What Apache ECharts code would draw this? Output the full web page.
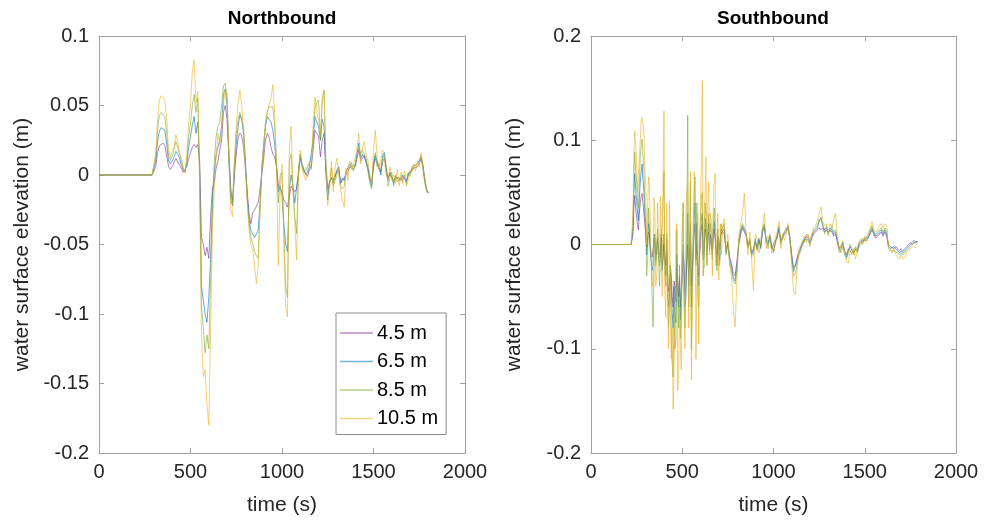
<!DOCTYPE html>
<html>
<head>
<meta charset="utf-8">
<script src="https://cdn.jsdelivr.net/npm/echarts@6/dist/echarts.min.js"></script>
<style>
html,body{margin:0;padding:0;background:#fff;}
#chart{width:987px;height:524px;}
</style>
</head>
<body>
<div id="chart"></div>
<script>
// ---------- DATA ----------
const seriesNames = ['4.5 m', '6.5 m', '8.5 m', '10.5 m'];
const xTicks = [0, 500, 1000, 1500, 2000];

// Northbound time (s)
const tN = [0, 290,
  300,310,320,330,340,350,360,370,380,390,
  400,410,420,430,440,450,460,470,480,490,
  500,510,520,530,540,550,560,570,580,590,
  600,610,620,630,640,650,660,670,680,690,
  700,710,720,730,740,750,760,770,780,790,
  800,810,820,830,840,850,860,870,880,890,
  900,910,920,930,940,950,960,970,980,990,
  1000,1010,1020,1030,1040,1050,1060,1070,1080,1090,
  1100,1110,1120,1130,1140,1150,1160,1170,1180,1190,
  1200,1210,1220,1230,1240,1250,1260,1270,1280,1290,
  1300,1310,1320,1330,1340,1350,1360,1370,1380,1390,
  1400,1410,1420,1430,1440,1450,1460,1470,1480,1490,
  1500,1510,1520,1530,1540,1550,1560,1570,1580,1590,
  1600,1610,1620,1630,1640,1650,1660,1670,1680,1690,
  1700,1710,1720,1730,1740,1750,1760,1770,1780,1790,
  1800];

const nb45 = [0, 0,
  0,0.006,0.016,0.021,0.022,0.023,0.021,0.014,0.006,0.004,
  0.006,0.009,0.012,0.011,0.007,0.005,0.002,0.001,0.006,0.012,
  0.016,0.020,0.022,0.020,0.022,0.010,-0.045,-0.050,-0.058,-0.052,
  -0.060,-0.030,-0.010,-0.005,0.005,0.010,0.018,0.025,0.045,0.050,
  0.040,0.015,-0.010,-0.020,0.000,0.015,0.027,0.030,0.028,0.020,
  0.005,-0.012,-0.028,-0.035,-0.027,-0.025,-0.025,-0.020,-0.010,0.000,
  0.012,0.025,0.030,0.027,0.020,0.015,0.013,0.006,-0.008,-0.010,
  -0.012,-0.018,-0.020,-0.023,-0.015,-0.008,-0.010,-0.012,-0.010,0.000,
  0.012,0.006,0.003,0.002,-0.001,0.004,0.006,0.018,0.032,0.030,
  0.028,0.013,0.025,0.030,0.005,-0.010,-0.005,-0.002,-0.004,0.000,
  0.002,0.004,-0.006,-0.004,-0.002,0.000,0.002,0.006,0.007,0.004,
  0.006,0.012,0.018,0.010,0.012,0.014,0.008,0.004,-0.002,-0.006,
  0.006,0.012,0.008,0.004,0.002,0.010,0.012,0.004,-0.002,0.001,
  0.000,-0.004,-0.002,-0.003,-0.002,-0.004,-0.001,-0.002,-0.004,0.000,
  0.000,0.003,0.005,0.004,0.006,0.008,0.012,0.006,-0.004,-0.010,
  -0.013];

const nb65 = [0, 0,
  0,0.010,0.024,0.032,0.034,0.035,0.032,0.022,0.010,0.008,
  0.010,0.013,0.017,0.015,0.012,0.007,0.004,0.002,0.009,0.020,
  0.028,0.036,0.042,0.030,0.038,0.005,-0.080,-0.090,-0.100,-0.106,
  -0.088,-0.060,-0.015,0.002,0.015,0.020,0.025,0.035,0.058,0.062,
  0.050,0.010,-0.018,-0.022,0.005,0.022,0.035,0.043,0.040,0.030,
  0.010,-0.015,-0.032,-0.040,-0.039,-0.045,-0.046,-0.040,-0.020,0.005,
  0.020,0.035,0.042,0.043,0.038,0.032,0.022,0.006,-0.012,-0.008,
  -0.015,-0.035,-0.050,-0.055,-0.010,0.000,-0.008,-0.020,-0.020,0.002,
  0.015,0.008,0.004,0.000,0.002,0.006,0.005,0.025,0.042,0.038,
  0.035,0.025,0.040,0.035,0.000,-0.018,-0.005,-0.002,-0.006,-0.002,
  0.004,0.006,-0.006,-0.002,-0.004,0.002,0.001,0.008,0.006,0.005,
  0.007,0.016,0.023,0.012,0.015,0.016,0.010,0.006,-0.004,-0.008,
  0.008,0.014,0.010,0.006,0.000,0.014,0.016,0.002,-0.004,0.002,
  -0.002,-0.006,-0.001,-0.002,-0.004,-0.003,0.000,-0.003,-0.005,0.001,
  0.002,0.004,0.006,0.006,0.008,0.007,0.013,0.008,-0.003,-0.011,
  -0.013];

const nb85 = [0, 0,
  0,0.013,0.032,0.043,0.045,0.046,0.042,0.030,0.014,0.011,
  0.014,0.018,0.024,0.020,0.015,0.010,0.005,0.002,0.011,0.028,
  0.037,0.050,0.058,0.045,0.055,0.000,-0.095,-0.110,-0.128,-0.115,
  -0.125,-0.075,-0.025,0.010,0.028,0.035,0.038,0.050,0.064,0.066,
  0.055,0.015,-0.012,-0.020,0.010,0.030,0.040,0.045,0.045,0.035,
  0.010,-0.018,-0.035,-0.045,-0.049,-0.055,-0.058,-0.060,-0.025,0.005,
  0.022,0.038,0.045,0.049,0.050,0.049,0.035,0.008,-0.020,0.000,
  0.002,-0.040,-0.080,-0.088,0.010,0.015,-0.010,-0.030,-0.042,0.005,
  0.015,0.006,0.002,0.004,0.005,0.008,0.004,0.030,0.048,0.052,
  0.054,0.025,0.055,0.061,0.010,-0.012,-0.008,0.005,-0.008,-0.004,
  0.000,0.005,-0.008,-0.010,-0.008,0.003,0.004,0.005,0.009,0.003,
  0.008,0.014,0.020,0.015,0.018,0.018,0.012,0.002,-0.006,-0.010,
  0.010,0.016,0.006,0.008,0.003,0.012,0.014,0.006,-0.008,-0.002,
  0.002,-0.008,0.000,-0.005,-0.006,-0.002,-0.004,0.000,-0.007,0.002,
  -0.001,0.006,0.005,0.007,0.006,0.009,0.014,0.004,-0.005,-0.012,
  -0.013];

const nb105 = [0, 0,
  0.001,0.016,0.040,0.054,0.057,0.058,0.054,0.040,0.018,0.013,
  0.017,0.020,0.029,0.024,0.016,0.012,0.005,0.002,0.015,0.038,
  0.050,0.075,0.083,0.052,0.060,-0.010,-0.115,-0.145,-0.140,-0.165,
  -0.180,-0.110,-0.040,-0.010,0.012,0.030,0.022,0.030,0.050,0.062,
  0.058,0.010,-0.025,-0.030,0.008,0.035,0.052,0.061,0.050,0.030,
  0.005,-0.020,-0.040,-0.050,-0.054,-0.065,-0.078,-0.065,-0.025,0.005,
  0.022,0.038,0.046,0.051,0.055,0.065,0.045,0.005,-0.065,-0.010,
  0.008,-0.050,-0.095,-0.102,0.020,0.035,-0.012,-0.035,-0.061,0.000,
  0.018,0.004,0.000,-0.004,0.006,0.010,0.008,0.035,0.056,0.045,
  0.040,0.030,0.052,0.061,0.005,-0.022,-0.010,0.010,-0.012,0.005,
  0.012,0.013,-0.010,-0.018,-0.023,0.005,-0.004,0.010,0.004,0.008,
  0.012,0.020,0.030,0.008,0.020,0.024,0.014,0.010,0.000,-0.006,
  0.018,0.032,0.012,0.005,0.005,0.018,0.010,0.000,-0.004,0.006,
  -0.004,0.000,-0.006,0.004,-0.008,0.002,-0.006,0.003,-0.008,-0.003,
  0.004,0.002,0.008,0.003,0.010,0.006,0.016,0.006,-0.002,-0.010,
  -0.013];

// Southbound time (s)
const tS = [0, 220,
  230,235,240,245,250,255,260,265,270,275,280,285,290,295,
  300,305,310,315,320,325,330,335,340,345,350,355,360,365,370,375,380,385,390,395,
  400,405,410,415,420,425,430,435,440,445,450,455,460,465,470,475,480,485,490,495,
  500,505,510,515,520,525,530,535,540,545,550,555,560,565,570,575,580,585,590,595,
  600,605,610,615,620,625,630,635,640,645,650,655,660,665,670,675,680,685,690,695,
  700,705,710,715,720,
  730,740,750,760,770,780,790,
  800,810,820,830,840,850,860,870,880,890,
  900,910,920,930,940,950,960,970,980,990,
  1000,1010,1020,1030,1040,1050,1060,1070,1080,1090,
  1100,1110,1120,1130,1140,1150,1160,1170,1180,1190,
  1200,1210,1220,1230,1240,1250,1260,1270,1280,1290,
  1300,1310,1320,1330,1340,1350,1360,1370,1380,1390,
  1400,1410,1420,1430,1440,1450,1460,1470,1480,1490,
  1500,1510,1520,1530,1540,1550,1560,1570,1580,1590,
  1600,1610,1620,1630,1640,1650,1660,1670,1680,1690,
  1700,1710,1720,1730,1740,1750,1760,1770,1780,1790];

const sb45 = [0, 0,
  0.010,0.035,0.047,0.035,0.026,0.018,0.014,0.030,0.040,0.046,0.049,0.040,0.030,0.020,
  0.010,-0.002,0.005,0.012,0.010,-0.004,-0.010,-0.012,-0.005,0.006,0.000,-0.008,-0.010,0.004,-0.005,-0.012,-0.005,0.006,-0.020,-0.008,
  0.000,-0.012,-0.020,-0.005,-0.030,-0.045,-0.040,-0.020,-0.030,-0.050,-0.060,-0.035,-0.040,-0.055,-0.020,-0.035,-0.050,-0.030,-0.060,-0.045,
  -0.030,-0.010,-0.020,-0.045,-0.040,-0.015,0.000,-0.030,-0.020,0.005,-0.040,-0.025,-0.010,0.010,0.020,-0.015,0.000,-0.020,-0.030,-0.010,
  0.000,0.015,0.020,-0.010,0.000,0.015,0.010,-0.005,0.010,0.012,-0.005,0.008,0.005,-0.006,0.010,0.015,0.005,-0.004,-0.010,0.008,
  0.005,-0.004,0.005,0.012,0.010,
  0.012,-0.005,0.000,-0.012,-0.018,-0.028,-0.030,
  -0.015,0.000,0.010,0.016,0.012,0.008,-0.002,0.004,-0.008,-0.004,
  0.002,-0.004,0.004,-0.002,0.012,0.016,0.004,0.002,0.006,-0.002,
  -0.006,0.002,0.008,0.014,0.002,0.006,0.010,0.012,0.016,0.006,
  -0.010,-0.022,-0.020,-0.012,-0.006,-0.002,0.002,0.004,0.008,0.006,
  0.002,0.006,0.010,0.012,0.014,0.016,0.014,0.016,0.012,0.014,
  0.012,0.014,0.012,0.008,0.010,0.004,-0.004,-0.005,0.000,-0.006,
  -0.010,-0.006,-0.002,-0.006,-0.008,-0.004,-0.006,0.000,0.002,0.004,
  0.004,0.004,0.008,0.010,0.014,0.010,0.006,0.008,0.010,0.012,
  0.008,0.012,0.008,0.000,-0.002,-0.002,-0.004,-0.002,-0.004,-0.006,
  -0.004,-0.006,-0.004,-0.002,0.000,0.002,0.000,0.002,0.003,0.003];

const sb65 = [0, 0,
  0.015,0.050,0.068,0.052,0.042,0.030,0.023,0.045,0.060,0.070,0.077,0.062,0.050,0.030,
  0.020,-0.010,0.000,0.020,0.015,-0.008,-0.015,-0.025,-0.020,0.010,0.005,-0.015,-0.015,0.008,-0.008,-0.020,-0.010,0.010,-0.025,-0.015,
  0.010,-0.020,-0.030,0.005,-0.040,-0.060,-0.050,-0.025,-0.045,-0.065,-0.080,-0.040,-0.070,-0.075,-0.010,-0.045,-0.060,-0.035,-0.072,-0.050,
  -0.020,0.000,-0.030,-0.060,-0.050,-0.010,0.030,-0.040,-0.010,0.020,-0.060,-0.030,0.000,0.025,0.040,-0.010,0.020,-0.030,-0.040,0.000,
  0.010,0.025,0.030,-0.015,-0.010,0.025,0.020,-0.010,0.015,0.020,0.000,0.010,0.010,-0.010,0.015,0.022,0.010,-0.008,-0.020,0.005,
  -0.010,-0.015,0.008,0.015,0.012,
  0.015,-0.008,0.003,-0.015,-0.022,-0.032,-0.035,
  -0.020,0.002,0.012,0.018,0.014,0.010,0.000,0.002,-0.010,-0.006,
  0.004,-0.002,0.006,-0.004,0.014,0.018,0.002,0.000,0.008,-0.004,
  -0.004,0.004,0.006,0.016,0.004,0.004,0.012,0.014,0.018,0.004,
  -0.012,-0.026,-0.025,-0.015,-0.008,-0.004,0.000,0.006,0.006,0.004,
  0.000,0.008,0.012,0.014,0.016,0.022,0.026,0.018,0.014,0.016,
  0.010,0.016,0.014,0.010,0.012,0.002,-0.006,-0.004,0.002,-0.008,
  -0.012,-0.004,-0.004,-0.008,-0.006,-0.006,-0.004,0.002,0.004,0.002,
  0.006,0.006,0.006,0.012,0.016,0.012,0.008,0.010,0.012,0.014,
  0.010,0.014,0.010,-0.002,-0.004,-0.004,-0.002,-0.004,-0.006,-0.008,
  -0.006,-0.008,-0.006,-0.004,-0.002,0.000,0.002,0.004,0.002,0.003];

const sb85 = [0, 0,
  0.020,0.065,0.089,0.070,0.060,0.040,0.035,0.060,0.085,0.095,0.101,0.085,0.070,0.040,
  0.010,-0.030,-0.015,0.035,0.020,0.000,-0.021,-0.050,-0.079,-0.030,0.010,-0.020,-0.020,0.015,-0.010,-0.040,-0.015,0.010,0.020,0.045,
  0.070,-0.030,-0.040,0.010,-0.047,-0.080,-0.060,-0.020,-0.090,-0.115,-0.127,-0.060,-0.100,-0.090,0.015,-0.040,-0.080,-0.020,-0.090,-0.070,
  0.010,0.040,-0.050,-0.080,-0.030,0.010,0.124,-0.060,0.000,0.060,-0.100,-0.040,0.020,0.045,0.065,-0.020,0.040,-0.050,-0.060,0.010,
  0.020,0.045,0.050,-0.030,-0.020,0.040,0.030,-0.020,0.000,0.030,0.010,0.020,0.000,-0.015,0.020,0.035,0.015,-0.010,-0.025,0.015,
  0.000,-0.020,0.010,0.020,0.015,
  0.020,-0.010,0.000,-0.018,-0.025,-0.035,-0.038,
  -0.025,0.005,0.015,0.020,0.020,0.012,-0.004,0.006,-0.012,-0.010,
  0.006,-0.006,0.002,0.000,0.016,0.020,0.006,-0.004,0.010,0.000,
  -0.008,0.000,0.010,0.018,0.000,0.008,0.008,0.016,0.014,0.008,
  -0.015,-0.030,-0.028,-0.018,-0.010,-0.006,0.004,0.002,0.010,0.008,
  0.004,0.004,0.014,0.016,0.018,0.024,0.022,0.020,0.010,0.018,
  0.014,0.012,0.018,0.012,0.014,0.006,-0.002,-0.008,-0.002,-0.010,
  -0.014,-0.008,0.000,-0.004,-0.010,-0.002,-0.008,-0.002,0.000,0.006,
  0.004,0.008,0.010,0.014,0.018,0.008,0.010,0.012,0.014,0.016,
  0.012,0.016,0.014,-0.004,-0.006,-0.005,-0.006,-0.006,-0.008,-0.010,
  -0.008,-0.010,-0.008,-0.006,-0.004,-0.002,0.000,0.002,0.000,0.001];

const sb105 = [0, 0,
  0.030,0.090,0.109,0.095,0.080,0.050,0.050,0.085,0.100,0.120,0.122,0.115,0.106,0.070,
  0.060,0.000,0.030,0.065,0.055,0.020,-0.010,-0.035,-0.041,0.045,0.027,-0.040,-0.030,0.040,0.000,-0.020,0.046,-0.010,-0.050,0.060,
  0.128,-0.050,-0.070,0.040,-0.045,-0.100,0.042,-0.030,-0.110,-0.080,-0.158,-0.120,-0.080,0.010,0.020,-0.140,-0.125,-0.050,-0.100,-0.120,
  0.020,0.040,-0.060,-0.100,0.030,0.050,0.060,-0.080,-0.040,0.070,-0.130,-0.060,-0.020,0.070,0.050,-0.110,-0.030,0.030,-0.095,-0.020,
  0.040,0.080,0.157,-0.030,0.010,0.050,0.084,-0.020,0.040,0.060,-0.010,0.030,0.020,-0.030,0.040,0.060,0.068,-0.020,0.010,0.030,
  -0.034,0.000,0.020,-0.010,0.010,
  0.025,-0.005,0.010,-0.020,-0.030,-0.063,-0.079,
  -0.030,0.008,0.020,0.030,0.049,0.010,-0.010,0.012,-0.015,-0.044,
  0.010,0.006,-0.008,0.004,0.018,0.030,-0.004,0.008,0.004,-0.008,
  -0.002,0.006,0.012,0.022,-0.004,0.010,0.004,0.010,0.020,0.002,
  -0.020,-0.045,-0.048,-0.022,-0.004,0.000,0.004,0.008,0.002,0.010,
  -0.002,0.010,0.016,0.018,0.022,0.030,0.036,0.022,0.018,0.020,
  0.008,0.020,0.016,0.024,0.030,0.008,-0.008,0.000,0.004,-0.008,
  -0.016,-0.018,-0.006,-0.010,-0.004,-0.014,-0.002,0.004,0.006,0.000,
  0.008,0.002,0.012,0.016,0.022,0.014,0.012,0.014,0.018,0.020,
  0.016,0.020,0.018,-0.002,-0.004,-0.008,-0.004,-0.010,-0.012,-0.014,
  -0.010,-0.014,-0.012,-0.008,-0.006,-0.004,-0.002,-0.002,-0.003,-0.002];

// ---------- CHART ----------
const FONT = '"Liberation Sans", Arial, Helvetica, sans-serif';
const colors = ['#7E2F8E', '#0072BD', '#77AC30', '#EDB120'];
const AX = '#a0a0a0';
const TXT = '#262626';

const nbSets = [nb45, nb65, nb85, nb105];
const sbSets = [sb45, sb65, sb85, sb105];

function pairs(t, v) { return t.map((x, i) => [x, v[i]]); }
function plain(v) { return String(Math.round(v * 1000) / 1000); }

function xAx(grid, pos) {
  const main = pos === 'bottom';
  return {
    type: 'value', gridIndex: grid, position: pos, min: xTicks[0], max: xTicks[xTicks.length - 1], interval: 500,
    axisLine: { show: true, onZero: false, lineStyle: { color: AX, width: 1 } },
    axisTick: { show: true, inside: true, length: 5, lineStyle: { color: AX } },
    axisLabel: { show: main, color: TXT, fontSize: 20, fontFamily: FONT, margin: 9, formatter: plain },
    splitLine: { show: false },
    name: main ? 'time (s)' : '', nameLocation: 'middle', nameGap: 42,
    nameTextStyle: { color: TXT, fontSize: 21, fontFamily: FONT }
  };
}
function yAx(grid, pos, min, max, interval) {
  const main = pos === 'left';
  return {
    type: 'value', gridIndex: grid, position: pos, min: min, max: max, interval: interval,
    axisLine: { show: true, onZero: false, lineStyle: { color: AX, width: 1 } },
    axisTick: { show: true, inside: true, length: 5, lineStyle: { color: AX } },
    axisLabel: { show: main, color: TXT, fontSize: 20, fontFamily: FONT, margin: 10, formatter: plain },
    splitLine: { show: false },
    name: main ? 'water surface elevation (m)' : '', nameLocation: 'middle', nameGap: 66,
    nameTextStyle: { color: TXT, fontSize: 21, fontFamily: FONT }
  };
}

const series = [];
seriesNames.forEach((n, k) => {
  series.push({
    name: n, type: 'line', xAxisIndex: 0, yAxisIndex: 0, data: pairs(tN, nbSets[k]),
    showSymbol: false, symbol: 'none', z: 2 + k,
    lineStyle: { color: colors[k], width: 1, opacity: 0.6 }, itemStyle: { color: colors[k] }
  });
});
seriesNames.forEach((n, k) => {
  series.push({
    name: n, type: 'line', xAxisIndex: 2, yAxisIndex: 2, data: pairs(tS, sbSets[k]),
    showSymbol: false, symbol: 'none', z: 2 + k,
    lineStyle: { color: colors[k], width: 1, opacity: 0.6 }, itemStyle: { color: colors[k] }
  });
});

const chart = echarts.init(document.getElementById('chart'), null, { renderer: 'canvas' });
chart.setOption({
  animation: false,
  backgroundColor: '#fff',
  textStyle: { fontFamily: FONT },
  grid: [
    { left: 99, top: 36, width: 366, height: 417, containLabel: false },
    { left: 591, top: 36, width: 365, height: 417, containLabel: false }
  ],
  xAxis: [xAx(0, 'bottom'), xAx(0, 'top'), xAx(1, 'bottom'), xAx(1, 'top')],
  yAxis: [yAx(0, 'left', -0.2, 0.1, 0.05), yAx(0, 'right', -0.2, 0.1, 0.05),
          yAx(1, 'left', -0.2, 0.2, 0.1), yAx(1, 'right', -0.2, 0.2, 0.1)],
  legend: {
    data: seriesNames, orient: 'vertical', left: 336, top: 313,
    padding: [10, 8, 6, 4], itemGap: 8.5, itemWidth: 33, itemHeight: 1.5, icon: 'rect',
    backgroundColor: '#fff', borderColor: '#8c8c8c', borderWidth: 1,
    itemStyle: { opacity: 0.55 },
    textStyle: { color: '#000', fontSize: 20, fontFamily: FONT, lineHeight: 20, padding: [0, 0, 0, -1] }
  },
  graphic: [
    { type: 'text', x: 282, y: 19, style: { text: 'Northbound', align: 'center', verticalAlign: 'middle', fontSize: 19, fontWeight: 'bold', fontFamily: FONT, fill: '#000' } },
    { type: 'text', x: 773, y: 19, style: { text: 'Southbound', align: 'center', verticalAlign: 'middle', fontSize: 19, fontWeight: 'bold', fontFamily: FONT, fill: '#000' } }
  ],
  series: series
});
</script>
</body>
</html>
